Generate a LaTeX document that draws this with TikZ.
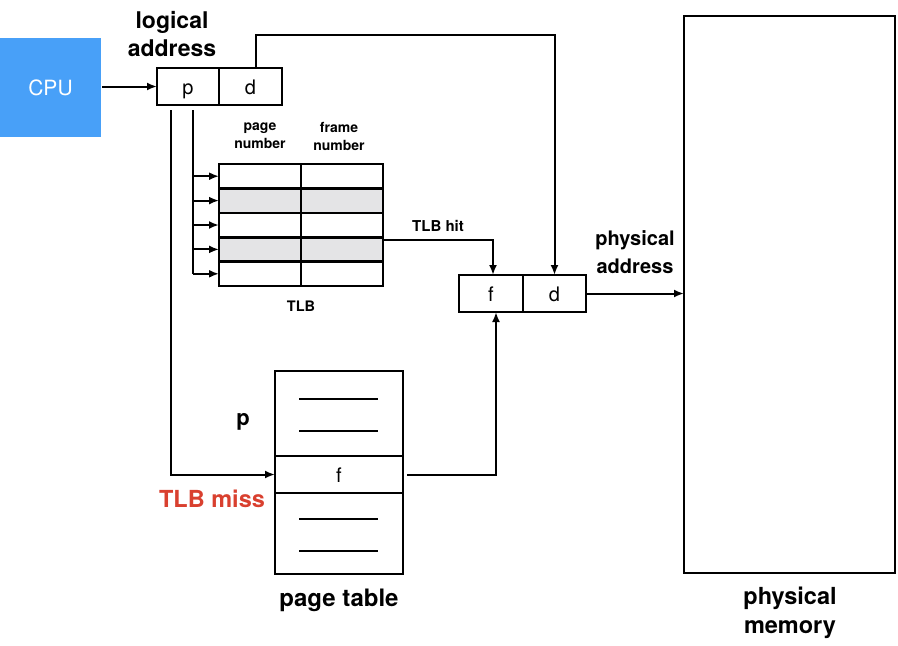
\documentclass[tikz,border=0pt]{standalone}
\usepackage{fontspec}
\setmainfont{TeX Gyre Heros}
\usetikzlibrary{arrows.meta}
\definecolor{cpublue}{RGB}{72,160,248}
\definecolor{rowgray}{RGB}{228,228,230}
\definecolor{missred}{RGB}{217,64,47}
\begin{document}
\begin{tikzpicture}[x=1pt,y=-1pt,
  cell/.style={draw, line width=2.6pt, inner sep=0pt, outer sep=0pt, text height=15pt, text depth=0pt, font=\fontsize{20}{22}\selectfont},
  tcell/.style={draw, line width=2.6pt, inner sep=0pt, outer sep=0pt, minimum width=82pt, minimum height=24.4pt},
  grayrow/.style={fill=rowgray},
  conn/.style={line width=2pt},
  arr/.style={line width=2pt, -{Latex[length=10pt,width=8pt]}},
  biglbl/.style={font=\fontsize{20}{28}\selectfont\bfseries, align=center},
  smalllbl/.style={font=\fontsize{14}{18}\selectfont\bfseries, align=center}]
\useasboundingbox (0,0) rectangle (898,646);
% CPU
\node[fill=cpublue, minimum width=101pt, minimum height=99pt, inner sep=0pt, outer sep=0pt,
  text=white, text height=15pt, text depth=0pt, font=\fontsize{21}{22}\selectfont] (cpu) at (50.5,87.5) {CPU};
% logical address
\node[biglbl, font=\fontsize{23}{28}\selectfont\bfseries] (lalbl) at (172,34) {logical\\address};
\node[cell, minimum width=62pt, minimum height=37pt] (p) at (188,86.5) {p};
\node[cell, minimum width=63pt, minimum height=37pt] (d) at (250.5,86.5) {d};
% TLB
\foreach \r/\y in {1/176.2,2/200.6,3/225,4/249.4,5/273.8}{
  \node[tcell] (tp\r) at (260,\y) {};
  \node[tcell] (tf\r) at (342,\y) {};
}
\foreach \r in {2,4}{
  \node[tcell, grayrow] at (tp\r) {};
  \node[tcell, grayrow] at (tf\r) {};
}
\draw[line width=2.6pt] (219,164) rectangle (383,286);
\node[smalllbl] (pnlbl) at (260,136) {page\\number};
\node[smalllbl] (fnlbl) at (339,136) {frame\\number};
\node[smalllbl, font=\fontsize{14.5}{18}\selectfont\bfseries] (tlblbl) at (301,306) {TLB};
% physical address f|d
\node[cell, minimum width=64pt, minimum height=37pt] (f) at (491,293.5) {f};
\node[cell, minimum width=63pt, minimum height=37pt] (d2) at (554.5,293.5) {d};
\node[biglbl] (palbl) at (635,252) {physical\\address};
\node[smalllbl, font=\fontsize{15}{18}\selectfont\bfseries] (hitlbl) at (438,226) {TLB hit};
% physical memory
\node[draw, line width=2.6pt, minimum width=211pt, minimum height=557pt, inner sep=0pt, outer sep=0pt] (mem) at (789.5,294.5) {};
\node[biglbl, font=\fontsize{23.5}{29}\selectfont\bfseries] (memlbl) at (790,613) {physical\\memory};
% page table
\node[draw, line width=2.6pt, minimum width=128pt, minimum height=203pt, inner sep=0pt, outer sep=0pt] (pt) at (339,472.5) {};
\node[cell, minimum width=128pt, minimum height=37pt] (frow) at (339,474.5) {f};
\draw[line width=2pt] (299,399) -- (378,399) (299,431) -- (378,431)
  (299,519) -- (378,519) (299,551) -- (378,551);
\node[biglbl, font=\fontsize{22}{28}\selectfont\bfseries] (plbl) at (243,422) {p};
\node[biglbl, text=missred, font=\fontsize{23.5}{28}\selectfont\bfseries] (misslbl) at (212,499) {TLB miss};
\node[biglbl, font=\fontsize{24}{28}\selectfont\bfseries] (ptlbl) at (339,600) {page table};
% connectors
\draw[arr] ([xshift=1pt]cpu.east |- p.west) -- (p.west);
\coordinate (dtop) at (256,35);
\draw[arr] (d.north -| dtop) -- (dtop) -| (d2.north);
\coordinate (v1) at (171,110);
\coordinate (v2) at (193,110);
\draw[arr] (v1) |- (frow.west);
\draw[conn] (v2) -- (v2 |- tp5.west);
\foreach \r in {1,...,5}{
  \draw[arr] (v2 |- tp\r.west) -- (tp\r.west);
}
\coordinate (hit) at (383,240);
\draw[arr] (hit) -| ([xshift=2pt]f.north);
\draw[arr] ([xshift=4pt]frow.east) -| ([xshift=5pt]f.south);
\draw[arr] (d2.east) -- (d2.east -| mem.west);
\end{tikzpicture}
\end{document}
